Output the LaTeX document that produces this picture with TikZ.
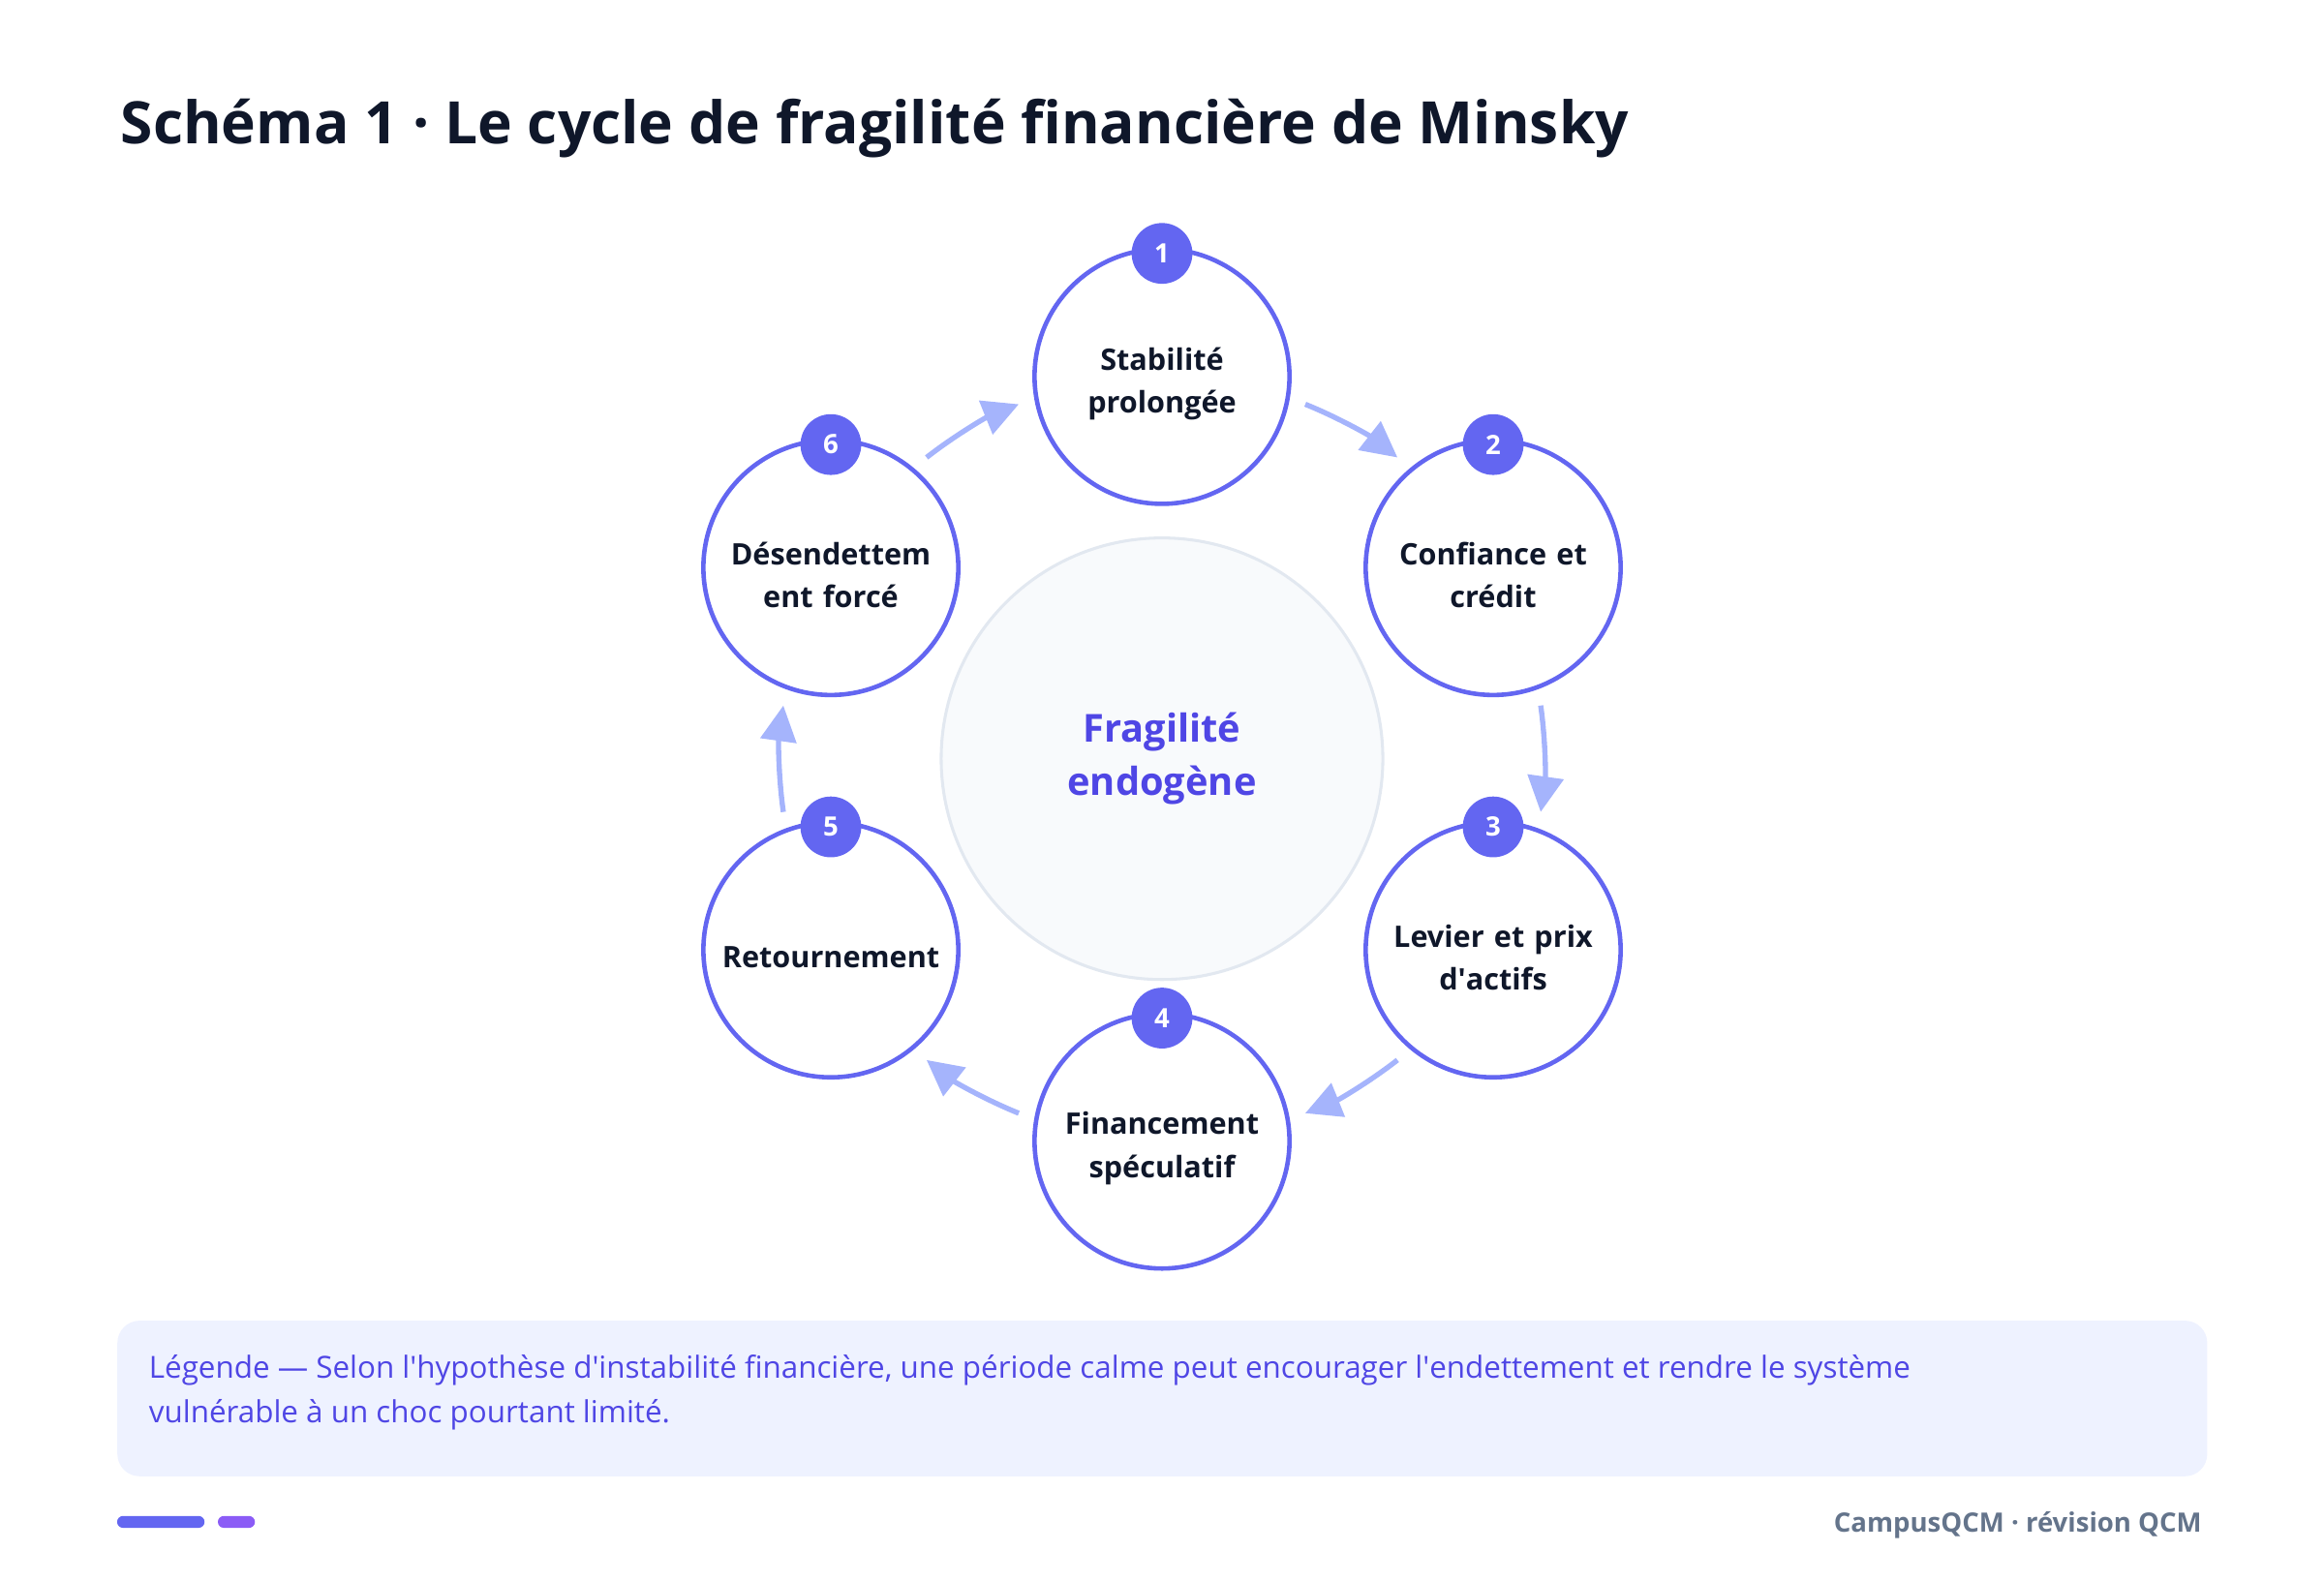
\documentclass[tikz,border=0pt]{standalone}
\usepackage{fontspec}
\setmainfont{Open Sans}
\usetikzlibrary{arrows.meta,calc}
\definecolor{ind}{HTML}{6366F1}
\definecolor{indt}{HTML}{4F46E5}
\definecolor{dark}{HTML}{0F172A}
\definecolor{arr}{HTML}{A5B4FC}
\definecolor{lg}{HTML}{EEF2FF}
\definecolor{gr}{HTML}{64748B}
\definecolor{pur}{HTML}{8B5CF6}
\definecolor{cf}{HTML}{F8FAFC}
\definecolor{cs}{HTML}{E2E8F0}
\newcommand\ap{\textquotesingle}
\begin{document}
\begin{tikzpicture}[x=1pt,y=-1pt,
 stage/.style={circle,draw=ind,line width=3pt,fill=white,minimum size=172pt,inner sep=0pt},
 stxt/.style={align=center,text width=150pt,inner sep=0pt,font=\fontsize{20}{29}\selectfont\bfseries,text=dark},
 badge/.style={circle,fill=ind,minimum size=41pt,inner sep=0pt,text=white,font=\fontsize{18}{20}\selectfont\bfseries},
 cyc/.style={draw=arr,line width=3.5pt,-{Triangle[length=24pt,width=24pt]}}]
\useasboundingbox (0,0) rectangle (1568,1067);
\node[anchor=base west,text=dark,font=\fontsize{39.5}{44}\selectfont\bfseries] (title) at (78,97) {Schéma 1 · Le cycle de fragilité financière de Minsky};
\node[circle,draw=cs,line width=2pt,fill=cf,minimum size=298pt,align=center,text=indt,font=\fontsize{26}{36}\selectfont\bfseries] (c) at (784,512) {Fragilité\\endogène};
\coordinate (o) at (784,512);
\foreach \a in {90,30,-30,-90,-150,150}{
  \draw[cyc] ($(o)+(\a-22:258 and -258)$) arc[start angle=\a-22,end angle=\a-38,x radius=258,y radius=-258];
}
\foreach \i/\a/\t in {1/90/{Stabilité\\prolongée},2/30/{Confiance et\\crédit},3/-30/{Levier et prix\\d\ap actifs},4/-90/{Financement\\spéculatif},5/-150/{Retournement},6/150/{Désendettem\\ent forcé}}{
  \node[stage] (s\i) at ($(o)+(\a:258 and -258)$) {};
  \node[stxt] (t\i) at ($(s\i.center)+(0,5)$) {\t};
  \node[badge] (b\i) at ($(s\i.center)+(0,-83)$) {\i};
}
\node[draw=none,fill=lg,rounded corners=15pt,minimum width=1410pt,minimum height=105pt,anchor=north west] (leg) at (79,891) {};
\node[anchor=north west,text=indt,align=left,font=\fontsize{20.5}{30}\selectfont] (lt) at (97,911) {Légende — Selon l\ap hypothèse d\ap instabilité financière, une période calme peut encourager l\ap endettement et rendre le système\\vulnérable à un choc pourtant limité.};
\fill[ind,rounded corners=4pt] (79,1023) rectangle (138,1031);
\fill[pur,rounded corners=4pt] (147,1023) rectangle (172,1031);
\node[anchor=east,text=gr,font=\fontsize{18}{20}\selectfont\bfseries] (ft) at (1489,1029) {CampusQCM · révision QCM};
\end{tikzpicture}
\end{document}
